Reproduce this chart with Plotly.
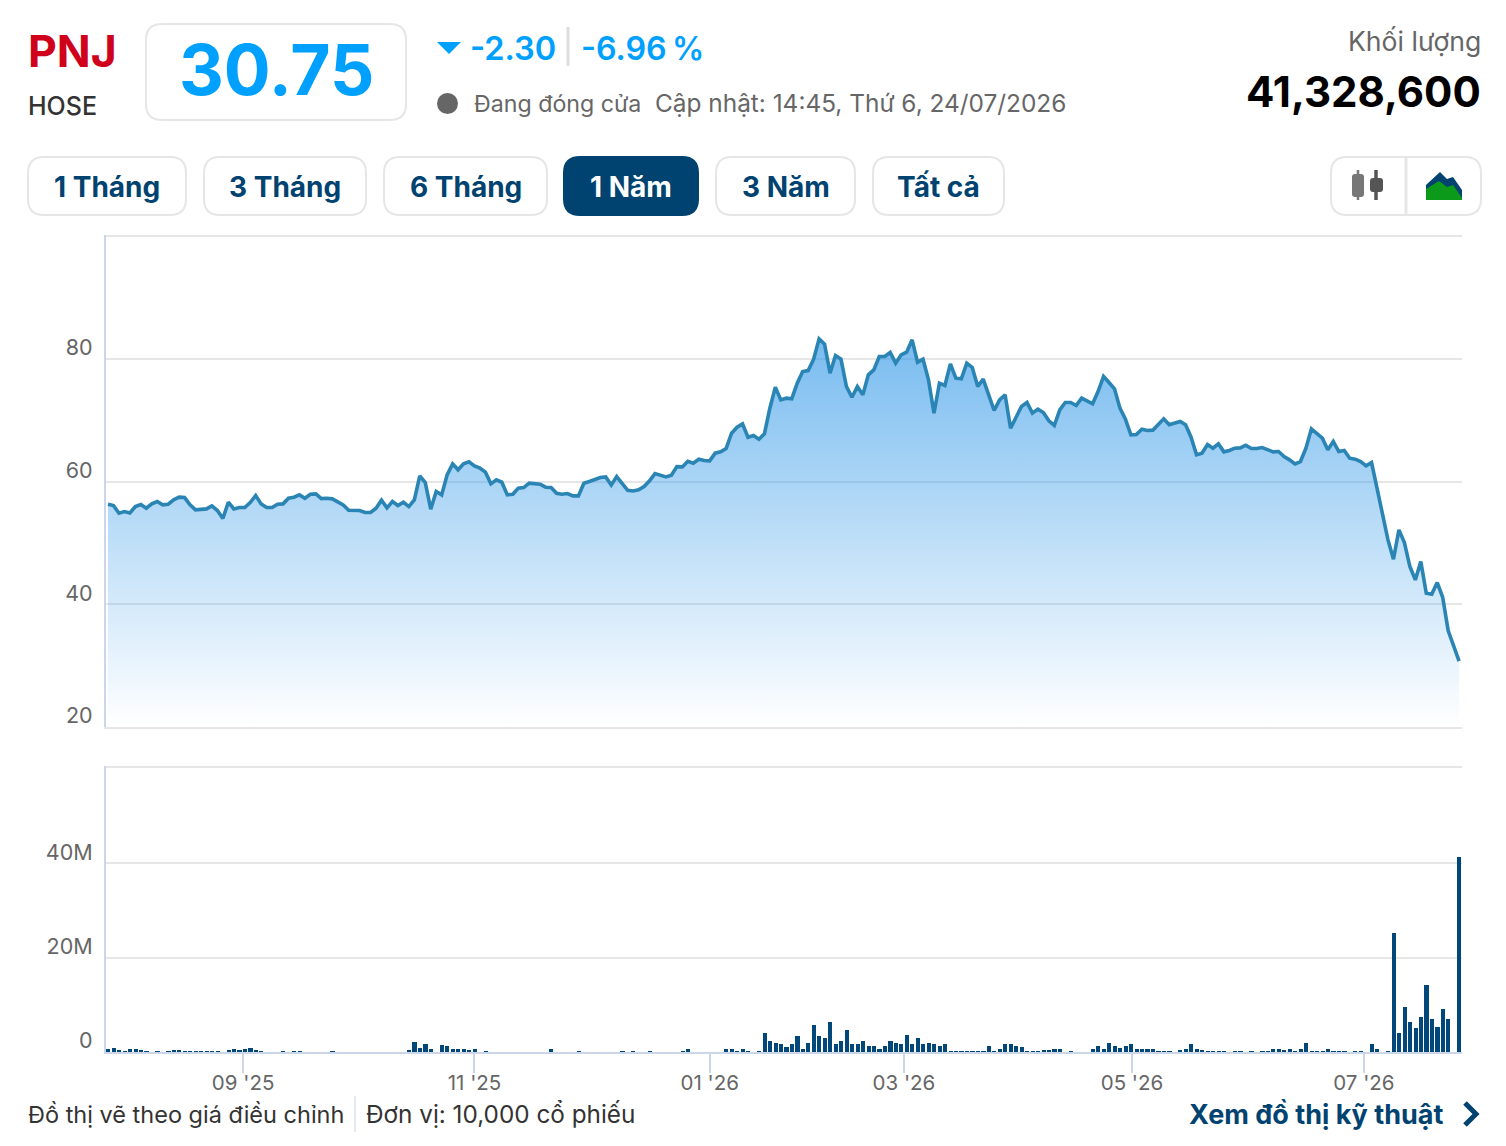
import plotly.graph_objects as go

W = 1506
H = 1146
FONT = "Inter"
NAVY = "#004370"
BLUE = "#00a0ff"
GRID = "#e6e6e6"
AXIS = "#ccd6eb"

# price, one value per trading day
close_1 = [56.33, 56.11, 54.86, 55.13, 54.91, 55.94, 56.27, 55.67, 56.38, 56.76,
           56.22, 56.33, 57.03, 57.47, 57.41, 56.22, 55.40, 55.46, 55.56, 56.05,
           55.29, 53.99, 56.65, 55.56, 55.78, 55.78, 56.60, 57.74, 56.38, 55.78,
           55.78, 56.33, 56.38, 57.30, 57.47, 57.85, 57.30, 57.96, 58.01, 57.25,
           57.30, 57.20, 56.65, 56.22, 55.35, 55.29, 55.29, 54.97, 54.97, 55.67,
           56.98, 55.73, 56.76, 56.11, 56.65, 55.94, 57.03, 60.95, 59.86, 55.51,
           58.39, 57.85, 61.11, 62.90, 61.93, 62.90, 63.23, 62.58, 62.20, 61.55,
           59.64, 60.29, 59.91, 57.85, 57.96, 58.94, 59.04, 59.75, 59.70, 59.59,
           59.10]
close_2 = [59.04, 58.11, 57.95, 58.06, 57.68, 57.68, 59.75, 60.02, 60.29, 60.67,
           60.78, 59.47, 60.83, 59.75, 58.60, 58.49, 58.66, 59.20, 60.13, 61.32,
           61.00, 60.78, 61.05, 62.46, 62.41, 63.33, 63.01, 63.66, 63.44, 63.39,
           64.64, 64.86, 65.40, 67.90, 68.88, 69.42, 67.25, 67.52, 66.92, 67.79,
           71.98, 75.41, 73.34, 73.61, 73.50, 76.06, 77.96, 78.12, 79.97, 83.29,
           82.42, 77.69, 80.57, 79.97, 75.51, 73.77, 75.51, 74.15, 77.42, 78.23,
           80.41, 80.41, 81.06, 79.32, 80.68, 81.12, 83.13, 79.48, 79.97, 76.60,
           71.16, 76.06, 75.68, 79.21, 76.87, 76.77, 79.32, 78.61, 75.51, 76.71,
           74.15, 71.60, 73.34]
close_3 = [74.16, 68.72, 70.52, 72.26, 72.91, 71.17, 71.82, 71.28, 69.92, 69.16,
           71.71, 72.91, 72.91, 72.42, 73.62, 73.07, 72.69, 74.70, 77.15, 76.17,
           75.14, 71.99, 70.19, 67.63, 67.69, 68.56, 68.34, 68.40, 69.27, 70.25,
           69.27, 69.54, 69.81, 69.27, 67.25, 64.37, 64.64, 66.06, 65.46, 66.17,
           64.86, 65.08, 65.46, 65.51, 65.95, 65.40, 65.40, 65.57, 65.19, 64.86,
           64.92, 64.10, 63.56, 62.90, 63.28, 65.46, 68.61, 67.80, 67.09, 65.19,
           66.55, 64.92, 65.08, 63.83, 63.67, 63.28, 62.58, 63.12, 58.93, 54.58,
           50.51, 47.35, 52.14, 50.07, 46.16, 43.98, 46.97, 41.81, 41.64, 43.55,
           41.15, 35.71, 33.11, 30.75]
close = close_1 + close_2 + close_3

# volume in millions of shares
volume = [0.7, 1.0, 0.5, 0.4, 0.8, 0.8, 0.5, 0.4, 0, 0.4,
          0, 0.4, 0.5, 0.5, 0.4, 0.4, 0.4, 0.4, 0.4, 0.4,
          0.4, 0, 0.6, 0.7, 0.5, 0.7, 1.0, 0.6, 0.4, 0,
          0, 0, 0.3, 0, 0.3, 0.3, 0, 0, 0, 0,
          0, 0.35, 0, 0, 0, 0, 0, 0, 0, 0,
          0, 0, 0, 0, 0, 0.5, 2.3, 1.0, 1.8, 0.7,
          0, 1.6, 1.3, 0.7, 0.7, 0.8, 0.6, 0.7, 0, 0.4,
          0, 0, 0, 0, 0, 0, 0, 0, 0, 0,
          0, 0.8, 0, 0, 0, 0, 0.3, 0, 0, 0,
          0, 0, 0, 0, 0.3, 0, 0.3, 0, 0, 0.3,
          0, 0, 0, 0, 0, 0.4, 0.8, 0, 0, 0,
          0, 0, 0, 0.8, 0.8, 0.4, 0.7, 0.3, 0, 0.3,
          4.2, 2.5, 2.0, 1.7, 1.2, 1.7, 3.4, 0.8, 2.1, 5.9,
          3.4, 3.0, 6.4, 1.7, 2.5, 4.7, 1.7, 1.7, 2.5, 1.3,
          1.3, 0.8, 1.3, 2.5, 2.1, 1.7, 3.8, 1.7, 3.0, 1.7,
          2.1, 1.7, 1.3, 1.7, 0.4, 0.4, 0.3, 0.3, 0.4, 0.4,
          0.35, 1.3, 0.3, 0.8, 1.7, 1.7, 1.3, 1.1, 0.3, 0.3,
          0.3, 0.5, 0.5, 0.8, 0.8, 0, 0.3, 0, 0, 0,
          0.8, 1.3, 0.8, 2.1, 1.3, 1.0, 1.3, 1.7, 0.8, 0.8,
          0.8, 0.8, 0.4, 0.4, 0.35, 0, 0.6, 0.8, 1.7, 0.8,
          0.6, 0.4, 0.4, 0.4, 0.4, 0, 0.3, 0.3, 0, 0.3,
          0, 0.35, 0.35, 0.8, 0.8, 0.5, 0.8, 0.4, 0.8, 2.1,
          0.4, 0.4, 0.4, 0.8, 0.4, 0.35, 0.35, 0, 0.3, 0.3,
          0, 1.7, 0.8, 0, 0.35, 25.4, 4.2, 9.7, 6.4, 5.1,
          7.6, 14.4, 7.2, 5.5, 9.3, 7.2, 0, 41.33]

days = list(range(len(close)))
month_ticks = [24.7, 67.0, 110.0, 145.5, 187.2, 229.6]
month_labels = ["09 '25", "11 '25", "01 '26", "03 '26", "05 '26", "07 '26"]
price_ticks = [20, 40, 60, 80, 100.1]
price_labels = ["20", "40", "60", "80", ""]
volume_ticks = [0, 20, 40, 60.4]
volume_labels = ["0", "20M", "40M", ""]
range_buttons = ["1 Tháng", "3 Tháng", "6 Tháng", "1 Năm", "3 Năm", "Tất cả"]


def fx(x):
    return x / W


def fy(y):
    return 1 - y / H


def rounded(x0, y0, x1, y1, r):
    return (f"M {fx(x0 + r)} {fy(y0)} L {fx(x1 - r)} {fy(y0)} Q {fx(x1)} {fy(y0)} {fx(x1)} {fy(y0 + r)} "
            f"L {fx(x1)} {fy(y1 - r)} Q {fx(x1)} {fy(y1)} {fx(x1 - r)} {fy(y1)} "
            f"L {fx(x0 + r)} {fy(y1)} Q {fx(x0)} {fy(y1)} {fx(x0)} {fy(y1 - r)} "
            f"L {fx(x0)} {fy(y0 + r)} Q {fx(x0)} {fy(y0)} {fx(x0 + r)} {fy(y0)} Z")


def poly(points):
    return "M " + " L ".join(f"{fx(x)} {fy(y)}" for x, y in points) + " Z"


def box(x0, y0, x1, y1, r, line=GRID, fill="white", width=2):
    return dict(type="path", xref="paper", yref="paper", path=rounded(x0, y0, x1, y1, r),
                line=dict(color=line, width=width), fillcolor=fill, layer="below")


def vline(x, y0, y1, color=GRID, width=2):
    return dict(type="line", xref="paper", yref="paper", x0=fx(x), x1=fx(x), y0=fy(y0), y1=fy(y1),
                line=dict(color=color, width=width), layer="below")


def label(text, x, y, size, color, anchor="left", weight=400):
    return dict(text=text, x=fx(x), y=fy(y), xref="paper", yref="paper", xanchor=anchor, yanchor="middle",
                showarrow=False, font=dict(family=FONT, size=size, color=color, weight=weight),
                borderpad=0, borderwidth=0)


fig = go.Figure()

fig.add_trace(go.Scatter(
    x=days, y=close, mode="lines", xaxis="x", yaxis="y",
    line=dict(color="#2a84b4", width=3.6),
    fill="tozeroy",
    fillgradient=dict(type="vertical", start=20, stop=84,
                      colorscale=[[0, "rgba(49,152,232,0)"], [1, "rgba(49,152,232,0.66)"]]),
    hoverinfo="skip"
))

fig.add_trace(go.Bar(
    x=days, y=volume, xaxis="x2", yaxis="y2",
    marker=dict(color="#01477a", line=dict(width=0)), width=0.76,
    hoverinfo="skip"
))

x_range = [(105.75 - 108) / 5.47, (1462 - 108) / 5.47]

shapes = [box(146, 24, 406, 120, 16)]

# period buttons
button_edges = [(28, 186), (204, 366), (384, 547), (564, 698), (716, 855), (873, 1004)]
annotations = []
for name, (x0, x1) in zip(range_buttons, button_edges):
    active = name == "1 Năm"
    shapes.append(box(x0, 157, x1, 215, 16, line=NAVY if active else GRID, fill=NAVY if active else "white"))
    annotations.append(label(name, (x0 + x1) / 2, 187, 28, "white" if active else NAVY, "center", 700))

# chart type switch
shapes.append(box(1331, 157, 1481, 215, 16))
shapes.append(vline(1406, 157, 215, width=3))
shapes.append(vline(1358, 170, 200, color="#777777", width=2.5))
shapes.append(box(1352, 174, 1364, 197, 3, line="#777777", fill="#777777", width=0))
shapes.append(vline(1376, 170, 200, color="#555555", width=3.5))
shapes.append(box(1370, 178, 1383, 192, 3, line="#555555", fill="#555555", width=0))
shapes.append(dict(type="path", xref="paper", yref="paper", fillcolor="#004370", line=dict(width=0), layer="below",
                   path=poly([(1426, 190), (1426, 185), (1440, 172), (1447, 179), (1453, 177), (1462, 190), (1462, 200), (1426, 200)])))
shapes.append(dict(type="path", xref="paper", yref="paper", fillcolor="#0b9a1a", line=dict(width=0), layer="below",
                   path=poly([(1426, 200), (1426, 189), (1439, 181), (1447, 187), (1453, 185), (1462, 198), (1462, 200)])))

# header and footer marks
shapes.append(dict(type="path", xref="paper", yref="paper", fillcolor=BLUE, line=dict(width=0), layer="below",
                   path=poly([(437, 42), (461, 42), (449, 54)])))
shapes.append(vline(568, 27, 66, color="#dddddd", width=3))
shapes.append(dict(type="circle", xref="paper", yref="paper", fillcolor="#666666", line=dict(width=0), layer="below",
                   x0=fx(437), x1=fx(458), y0=fy(93), y1=fy(114)))
shapes.append(vline(355, 1096, 1132, color="#dde3ee", width=1.5))
shapes.append(dict(type="path", xref="paper", yref="paper", line=dict(color=NAVY, width=5), layer="above",
                   path=f"M {fx(1465)} {fy(1103)} L {fx(1476)} {fy(1114)} L {fx(1465)} {fy(1125)}"))

annotations += [
    label("PNJ", 28, 51, 44.5, "#d0021b", weight=700),
    label("HOSE", 28, 106, 25, "#333333", weight=500),
    label("30.75", 276, 70, 69.5, BLUE, "center", 700),
    label("-2.30", 470, 48, 32.5, BLUE, weight=600),
    label("-6.96\u2009%", 581, 48, 32.2, BLUE, weight=600),
    label("Đang đóng cửa", 474, 104, 23.2, "#666666"),
    label("Cập nhật: 14:45, Thứ 6, 24/07/2026", 655, 103, 24.4, "#666666"),
    label("Khối lượng", 1481, 41, 26.6, "#666666", "right"),
    label("41,328,600", 1481, 91, 42, "#000000", "right", 700),
    label("Đồ thị vẽ theo giá điều chỉnh", 28, 1114, 23.5, "#333333"),
    label("Đơn vị: 10,000 cổ phiếu", 366, 1114, 24.3, "#333333"),
    label("Xem đồ thị kỹ thuật", 1444, 1114, 27, NAVY, "right", 700),
]

y_tick_font = dict(family=FONT, size=21.5, color="#666666")
x_tick_font = dict(family=FONT, size=20.5, color="#666666")

fig.update_layout(
    width=W, height=H,
    margin=dict(l=0, r=0, t=0, b=0),
    paper_bgcolor="white", plot_bgcolor="white",
    showlegend=False, hovermode=False,
    bargap=0,
    shapes=shapes,
    annotations=annotations,
    xaxis=dict(domain=[fx(105.75), fx(1462)], range=x_range, anchor="y",
               showticklabels=False, ticks="", showgrid=False, zeroline=False,
               showline=True, linecolor=GRID, linewidth=1.5),
    yaxis=dict(domain=[fy(727), fy(234.5)], range=[20, 100.3], anchor="x",
               tickvals=price_ticks, ticktext=price_labels,
               showgrid=True, gridcolor=GRID, gridwidth=1.5, zeroline=False,
               showline=True, linecolor=AXIS, linewidth=1.5,
               ticks="", ticklabelposition="outside top", ticklabelstandoff=7, ticklabelshift=4, tickfont=y_tick_font),
    xaxis2=dict(domain=[fx(105.75), fx(1462)], range=x_range, anchor="y2",
                tickvals=month_ticks, ticktext=month_labels, showgrid=False, zeroline=False,
                showline=True, linecolor=AXIS, linewidth=2,
                ticks="outside", ticklen=19, tickwidth=1.5, tickcolor=AXIS,
                ticklabelstandoff=-8, tickfont=x_tick_font),
    yaxis2=dict(domain=[fy(1052), fy(765.5)], range=[0, 60.7], anchor="x2",
                tickvals=volume_ticks, ticktext=volume_labels,
                showgrid=True, gridcolor=GRID, gridwidth=1.5, zeroline=False,
                showline=True, linecolor=AXIS, linewidth=1.5,
                ticks="", ticklabelposition="outside top", ticklabelstandoff=7, ticklabelshift=4, tickfont=y_tick_font),
)

fig.write_html("out.html", config=dict(displayModeBar=False),
               post_script="document.body.style.margin='0';document.body.style.overflow='hidden';")
